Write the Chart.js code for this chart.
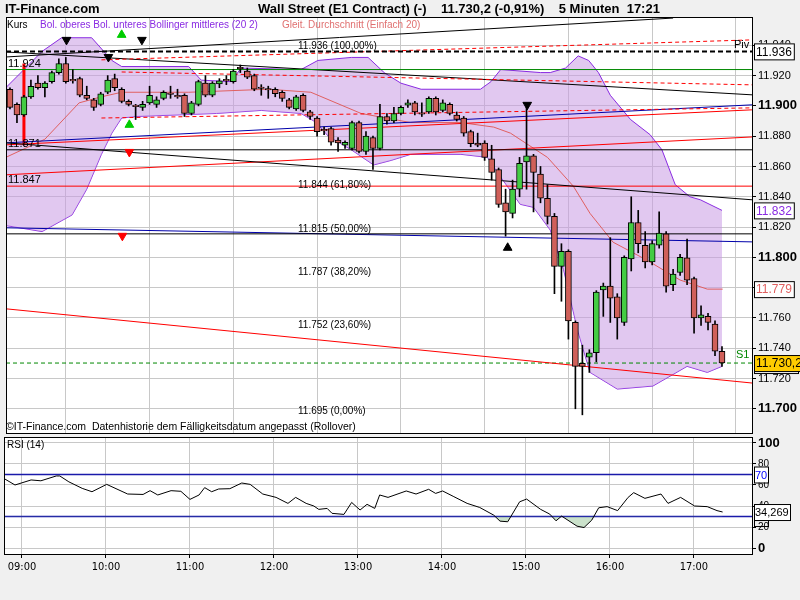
<!DOCTYPE html>
<html>
<head>
<meta charset="utf-8">
<script src="https://cdn.jsdelivr.net/npm/chart.js@4.4.0/dist/chart.umd.min.js"></script>
<style>
  body { margin: 0; background: #f0f0f0; width: 800px; height: 600px; overflow: hidden; position: relative; }
  canvas { position: absolute; left: 0; }
  #main { top: 0; }
  #rsi { top: 435px; }
</style>
</head>
<body>
<canvas id="main" width="800" height="439"></canvas>
<canvas id="rsi" width="800" height="165"></canvas>
<script>
// 5-minute bars, first bar is 08:50 (index -2), index 0 = 09:00
const opens = [11911,11901,11894,11906,11915,11912,11916,11922,11928,11917.5,11918,11907,11904,11901,11909,11918,11911,11903,11900.5,11899,11902,11901,11905,11908.5,11907,11907,11895,11901,11915,11907,11914.5,11917.5,11916,11925.5,11923,11920,11912.5,11911.5,11911,11909,11904,11898,11907,11896,11892,11884.5,11885,11877.5,11874,11872,11889,11870,11879,11872,11893,11890,11895,11900.5,11902,11895.5,11896,11905,11897,11901,11894,11892,11883,11875.5,11875.5,11865,11858,11836,11829,11845,11863,11867,11855,11839,11827,11794,11804,11757,11730,11734,11737,11778.5,11781,11774,11757,11799,11823,11808,11797,11808,11815.5,11782,11790,11799.7,11786,11760,11761,11756,11738];
const closes = [11899,11894,11906,11913,11912,11915,11922,11928,11916,11916.5,11907,11905,11899,11908,11917,11912,11903,11901,11899.5,11901,11907,11904,11909,11907.5,11906,11895,11902,11916,11907,11915,11916.5,11916.5,11923,11924.5,11919,11911,11911.5,11910.5,11908,11905,11899,11906,11897,11893,11883,11883.5,11876,11875.5,11876,11889,11870,11880,11872,11893,11890,11895,11899,11902,11896,11894.5,11905,11896,11902,11895,11891,11882,11875,11874,11866,11856,11835,11830,11845,11862,11867,11856,11839,11827,11794,11804,11758,11728,11728,11737,11777,11781,11773,11760,11800,11823,11809,11797,11809,11816,11781,11789,11800,11785,11760,11762,11757,11738,11730.2];
const highs = [11912,11902,11907,11917,11920,11916,11923,11931,11932,11924,11919,11913,11905,11909,11920,11921,11912,11904,11901,11903,11913,11906,11910,11913,11911,11908,11903,11917,11920,11916,11918,11920,11924,11927,11925,11921,11914,11913,11912,11910,11905,11907,11908,11897,11893,11886,11886,11879,11877,11890,11890,11883,11880,11901,11895,11899,11900,11904,11903,11902,11906,11906,11904,11902,11896,11893,11884,11882,11877,11874,11859,11845,11851,11866,11901,11868,11860,11848,11829,11809,11805,11758,11742,11739,11778,11783,11813,11776,11801,11840,11831,11817,11811,11830,11817,11792,11802,11812,11787,11768,11763,11758,11741];
const lows = [11898,11889,11893,11905,11911,11906,11915,11921,11915,11915,11906,11904,11897,11900,11908,11910,11902,11900,11891,11897,11901,11899,11904,11905,11905,11893,11894,11900,11906,11906,11912,11914,11915,11922,11918,11910,11907,11905,11906,11903,11898,11897,11896,11891,11880,11881,11874,11870,11872,11871,11869,11868,11858,11871,11888,11889,11894,11899,11894,11893,11895,11894,11896,11894,11890,11880,11873,11873,11864,11851,11833,11814,11826,11840,11845,11830,11836,11822,11776,11771,11746,11700,11696,11724,11731,11761,11757,11746,11755,11791,11803,11793,11795,11806,11777,11778,11788,11782,11750,11755,11752,11735,11728];

// Bollinger (20,2) and SMA 20 readings: bar index, price
const bbUpperX = [-2.6,2.6,5.4,9.7,12.6,14,23.6,25.4,29.7,31.1,39.7,42.1,46.9,49.3,51.6,54,56.9,65.4,66.9,68.3,74,75.4,77.6,79.4,80.9,82.3,84,86.9,89.7,91.4,93.3,95.4,96.9,100];
const bbUpperY = [11912,11936,11945,11945,11930,11926,11926,11917,11916,11925,11924,11930,11932,11932,11922,11915,11911,11911,11916,11924,11922,11922,11925,11933,11930,11922,11907,11891,11881,11871,11848,11840,11838,11831];
const bbLowerX = [-2.6,2.6,6.9,9,11.1,12.6,14,16.1,27.6,34,39.7,41.9,43.6,46.9,50.1,52.6,55.4,62.6,66.4,68.3,71.1,73,75.4,77.3,79.3,81.1,85,90.1,95,97.9,100];
const bbLowerY = [11821,11817,11828,11845,11868,11882,11892,11893,11895,11897,11895,11889,11880,11871,11861,11864,11868,11868,11866,11853,11835,11833,11818,11792,11752,11724,11713,11715,11728,11724,11728];
const smaX = [-2.6,3,7.9,11.1,14,23.6,35,41.1,48.3,55.4,62.6,67.3,69.7,75,78.7,81.1,84.4,89.3,94,97.9,100.1];
const smaY = [11866,11878,11902,11906,11909,11909,11911,11909,11895,11889,11889,11886,11882,11866,11847,11829,11810,11798,11785,11779,11779];

// RSI (14)
const rsiX = [-2.6,-1,1.3,2.7,4.9,5.4,6.7,8.6,10,12.1,15.1,17.3,18.3,19.4,21.3,22.7,24,25.3,26.1,27.1,28.1,29.7,31.4,32.6,34.4,36.3,38,39.1,40.6,41.7,42.4,43.6,44.3,46,47.1,48.3,49.3,50.4,51.1,52.3,54.9,56.3,58.1,59.1,60.1,61.7,63.6,65.4,67.4,68.3,69.4,71.1,72.1,74.1,75.4,76.3,77.1,79.3,80.3,81.4,82.4,83.6,85.1,86.6,87.4,89,91.3,92.3,94.1,96.1,97.9,99.3,100.1];
const rsiY = [66.3,60,64.8,64,68.6,68.6,63,56.8,53.6,60.6,51.4,51,54.6,50.5,54.6,54,46.3,50.5,57.5,53.6,56.2,56.5,61.9,60.6,51.4,48.2,42.5,48.2,42.5,40,36.8,37.7,33,32,43.4,36.2,41.6,37.7,50.5,48.2,54.3,51.4,55.9,52,54.3,48.9,42.5,38.6,31.3,25.6,25,44,46.6,36.8,32.3,25.9,30.4,20.8,19.5,26.5,38.3,39.4,35.6,48.2,52.7,47.3,51.4,42.5,48.2,40,39.4,35.6,34.3];

const hourIdx = [0,12,24,36,48,60,72,84,96];
const hourLabels = ['09:00','10:00','11:00','12:00','13:00','14:00','15:00','16:00','17:00'];
const priceTicks = [11700,11720,11740,11760,11780,11800,11820,11840,11860,11880,11900,11920,11940];
const rsiTicks = [0,20,40,60,80,100];

// trend / support lines: [x0, y0, x1, y1, colour, dash, width]
const lines = [
  [-2.57,11936,104.3,11936,'#000',[5,3],2],
  [11.1,11930.4,104.3,11943.6,'#f00',[4,3],1],
  [14,11922.4,104.3,11913.9,'#f00',[4,3],1],
  [11.1,11892,104.3,11898.7,'#f00',[4,3],1],
  [-2.57,11924,104.3,11924,'#080',[],1],
  [-2.57,11932.3,93,11958,'#000',[],1],
  [-2.57,11935.6,104.3,11907.3,'#000',[],1],
  [-2.57,11871,104.3,11871,'#000',[],1],
  [-2.57,11875.6,104.3,11838,'#000',[],1],
  [-2.57,11815.5,104.3,11815.5,'#000',[],1],
  [-2.57,11819.5,104.3,11810.2,'#00a',[],1],
  [-2.57,11875.6,104.3,11900.7,'#00a',[],1],
  [-2.57,11874.3,104.3,11897.4,'#f00',[],1],
  [-2.57,11854.5,104.3,11879.5,'#f00',[],1],
  [-2.57,11847,104.3,11847,'#f00',[],1],
  [-2.57,11766,104.3,11717,'#f00',[],1],
  [-2.57,11730.2,104.3,11730.2,'#080',[4,3],1],
  [0,11928,0,11874,'#f00',[],3]
];
const fibLabels = ['11.936 (100,00%)','11.844 (61,80%)','11.815 (50,00%)','11.787 (38,20%)','11.752 (23,60%)','11.695 (0,00%)'];
const fibPrices = [11936,11844,11815,11787,11752,11695];

const XMIN = -2.57, XMAX = 104.3;
const FONT = 'Arial, "Liberation Sans", sans-serif';

const bars = opens.map((o, k) => ({ x: k - 2, y: o === closes[k] ? [o - 0.5, o + 0.5] : [o, closes[k]] }));
const wicks = lows.map((l, k) => ({ x: k - 2, y: [l, highs[k]] }));
const pts = (xs, ys) => xs.map((x, k) => ({ x, y: ys[k] }));

const datasets = [
  { type: 'line', data: pts(bbUpperX, bbUpperY), borderColor: '#8a2be2', borderWidth: 1, pointRadius: 0, fill: '+1', backgroundColor: 'rgba(200,155,228,0.55)', order: 10 },
  { type: 'line', data: pts(bbLowerX, bbLowerY), borderColor: '#8a2be2', borderWidth: 1, pointRadius: 0, fill: false, order: 10 },
  { type: 'line', data: pts(smaX, smaY), borderColor: '#e06060', borderWidth: 1, pointRadius: 0, fill: false, order: 6 }
];
lines.forEach(l => datasets.push({
  type: 'line', data: [{ x: l[0], y: l[1] }, { x: l[2], y: l[3] }], borderColor: l[4], borderDash: l[5],
  borderWidth: l[6], pointRadius: 0, fill: false, order: 5
}));
datasets.push({ type: 'bar', data: wicks, backgroundColor: '#000', barThickness: 1, grouped: false, order: 2 });
datasets.push({
  type: 'bar', data: bars, grouped: false, barThickness: 6, borderColor: '#000', borderWidth: 1, borderSkipped: false,
  backgroundColor: bars.map(b => b.y[1] >= b.y[0] ? '#44cc44' : '#d0605a'), order: 1
});
// signal arrows
const downArrows = [[6.1,11943.6,'#000'],[12.1,11932.3,'#000'],[16.9,11943.6,'#000'],[72.1,11900.7,'#000'],[15.1,11869.6,'#f00'],[14.1,11814.2,'#f00']];
const upArrows = [[69.3,11806.3,'#000'],[14,11946.9,'#0c0'],[15.1,11887.5,'#0c0']];
datasets.push({ type: 'scatter', data: downArrows.map(a => ({ x: a[0], y: a[1] })), pointStyle: 'triangle', rotation: 180,
  pointRadius: 5, backgroundColor: downArrows.map(a => a[2]), borderColor: downArrows.map(a => a[2]), order: 0 });
datasets.push({ type: 'scatter', data: upArrows.map(a => ({ x: a[0], y: a[1] })), pointStyle: 'triangle',
  pointRadius: 5, backgroundColor: upArrows.map(a => a[2]), borderColor: upArrows.map(a => a[2]), order: 0 });

const whiteArea = {
  id: 'whiteArea',
  beforeDraw(c) {
    const a = c.chartArea, ctx = c.ctx;
    ctx.save(); ctx.fillStyle = '#fff'; ctx.fillRect(a.left, a.top, a.right - a.left, a.bottom - a.top); ctx.restore();
  },
  afterDraw(c) {
    const a = c.chartArea, ctx = c.ctx;
    ctx.save(); ctx.strokeStyle = '#000'; ctx.lineWidth = 1;
    ctx.strokeRect(a.left + 0.5, a.top + 0.5, a.right - a.left, a.bottom - a.top); ctx.restore();
  }
};

function box(ctx, text, y, color, bg, bold) {
  ctx.font = (bold ? 'bold ' : '') + '12px ' + FONT;
  const w = ctx.measureText(text).width + 4;
  ctx.fillStyle = bg; ctx.fillRect(754, y - 8, w, 16);
  ctx.strokeStyle = '#000'; ctx.strokeRect(754.5, y - 7.5, w, 16);
  ctx.fillStyle = color; ctx.textAlign = 'left'; ctx.textBaseline = 'middle';
  ctx.fillText(text, 756, y + 1);
}

const mainText = {
  id: 'mainText',
  afterDraw(c) {
    const ctx = c.ctx, y = c.scales.y;
    ctx.save();
    ctx.textBaseline = 'middle'; ctx.textAlign = 'left';
    ctx.fillStyle = '#000'; ctx.font = 'bold 13px ' + FONT;
    ctx.fillText('IT-Finance.com', 5, 9);
    ctx.fillText('Wall Street (E1 Contract) (-)    11.730,2 (-0,91%)    5 Minuten  17:21', 258, 9);
    ctx.font = '10px ' + FONT;
    ctx.fillText('Kurs', 7, 25);
    ctx.fillStyle = '#8a2be2'; ctx.fillText('Bol. oberes Bol. unteres Bollinger mittleres (20 2)', 40, 25);
    ctx.fillStyle = '#e07070'; ctx.fillText('Gleit. Durchschnitt (Einfach 20)', 282, 25);
    ctx.fillStyle = '#000'; ctx.font = '10.5px ' + FONT;
    ctx.fillText('©IT-Finance.com  Datenhistorie dem Fälligkeitsdatum angepasst (Rollover)', 6, 427);
    ctx.font = '10px ' + FONT;
    fibLabels.forEach((t, k) => ctx.fillText(t, 298, y.getPixelForValue(fibPrices[k]) - 5));
    ctx.font = '11px ' + FONT;
    ctx.fillText('11.924', 8, y.getPixelForValue(11924) - 6);
    ctx.fillText('11.871', 8, y.getPixelForValue(11871) - 6);
    ctx.fillText('11.847', 8, y.getPixelForValue(11847) - 6);
    ctx.fillText('Piv', 734, y.getPixelForValue(11936) - 6);
    ctx.fillStyle = '#080'; ctx.fillText('S1', 736, y.getPixelForValue(11730.2) - 8);
    box(ctx, '11.936', y.getPixelForValue(11936), '#000', '#fff', false);
    box(ctx, '11.832', y.getPixelForValue(11831), '#8a2be2', '#fff', false);
    box(ctx, '11.779', y.getPixelForValue(11779), '#e06060', '#fff', false);
    ctx.strokeStyle = '#000'; ctx.strokeRect(754.5, y.getPixelForValue(11730.2) + 2.5, 44, 8);
    box(ctx, '11.730,2', y.getPixelForValue(11730.2), '#000', '#ffcc00', false);
    ctx.restore();
  }
};

const noLabelPad = s => { s.width = 48; s.paddingTop = 0; s.paddingBottom = 0; };

new Chart(document.getElementById('main'), {
  data: { datasets },
  options: {
    responsive: false, animation: false,
    layout: { padding: { left: 4, top: 17, bottom: 2, right: 0 } },
    plugins: { legend: { display: false }, tooltip: { enabled: false } },
    scales: {
      x: {
        type: 'linear', min: XMIN, max: XMAX, offset: false,
        afterBuildTicks: s => { s.ticks = hourIdx.map(v => ({ value: v })); },
        afterFit: s => { s.height = 0; s.paddingLeft = 0; s.paddingRight = 0; },
        ticks: { display: false }, grid: { color: '#c8c8c8', drawTicks: false }, border: { display: false }
      },
      y: {
        position: 'right', min: 11684, max: 11958.7,
        afterBuildTicks: s => { s.ticks = priceTicks.map(v => ({ value: v })); },
        afterFit: noLabelPad,
        ticks: {
          color: '#000', padding: 2,
          font: ctx => ctx.tick && ctx.tick.value % 100 === 0 ? { family: FONT, size: 13, weight: 'bold' } : { family: FONT, size: 11 },
          callback: v => (v / 1000).toFixed(3)
        },
        grid: { color: '#c8c8c8', tickLength: 4, tickColor: '#000' }, border: { color: '#000' }
      }
    }
  },
  plugins: [whiteArea, mainText]
});

const rsiText = {
  id: 'rsiText',
  afterDraw(c) {
    const ctx = c.ctx, y = c.scales.y;
    ctx.save(); ctx.textBaseline = 'middle'; ctx.textAlign = 'left';
    ctx.fillStyle = '#000'; ctx.font = '10px ' + FONT;
    ctx.fillText('RSI (14)', 7, 10);
    ctx.font = '11px ' + FONT;
    ctx.fillStyle = '#fff'; ctx.fillRect(754, y.getPixelForValue(70) - 8, 14, 16);
    ctx.strokeStyle = '#000'; ctx.strokeRect(754.5, y.getPixelForValue(70) - 7.5, 14, 16);
    ctx.fillStyle = '#00f'; ctx.fillText('70', 755, y.getPixelForValue(70) + 1);
    const ry = y.getPixelForValue(34.269);
    ctx.fillStyle = '#fff'; ctx.fillRect(754, ry - 8, 36, 16);
    ctx.strokeRect(754.5, ry - 7.5, 36, 16); ctx.strokeRect(754.5, ry + 8.5, 14, 6);
    ctx.fillStyle = '#000'; ctx.fillText('34,269', 755, ry + 1);
    ctx.restore();
  }
};

new Chart(document.getElementById('rsi'), {
  data: {
    datasets: [
      { type: 'line', data: pts(rsiX, rsiY), borderColor: '#000', borderWidth: 1, pointRadius: 0,
        fill: { target: { value: 30 }, above: 'rgba(0,0,0,0)', below: 'rgba(140,190,140,0.45)' }, order: 1 },
      { type: 'line', data: [{ x: XMIN, y: 70 }, { x: XMAX, y: 70 }], borderColor: '#1a1aaa', borderWidth: 1.5, pointRadius: 0, fill: false, order: 2 },
      { type: 'line', data: [{ x: XMIN, y: 30 }, { x: XMAX, y: 30 }], borderColor: '#1a1aaa', borderWidth: 1.5, pointRadius: 0, fill: false, order: 2 }
    ]
  },
  options: {
    responsive: false, animation: false,
    layout: { padding: { left: 4, top: 2, right: 0, bottom: 0 } },
    plugins: { legend: { display: false }, tooltip: { enabled: false } },
    scales: {
      x: {
        type: 'linear', min: XMIN, max: XMAX,
        afterBuildTicks: s => { s.ticks = hourIdx.map(v => ({ value: v })); },
        afterFit: s => { s.height = 46; s.paddingLeft = 0; s.paddingRight = 0; },
        ticks: { color: '#000', padding: 3, maxRotation: 0, font: { family: '"DejaVu Sans Condensed", "DejaVu Sans", sans-serif', size: 11 },
          callback: v => hourLabels[hourIdx.indexOf(v)] },
        grid: { color: '#c8c8c8', tickLength: 4, tickColor: '#000' }, border: { color: '#000' }
      },
      y: {
        position: 'right', min: -5.7, max: 105.7,
        afterBuildTicks: s => { s.ticks = rsiTicks.map(v => ({ value: v })); },
        afterFit: noLabelPad,
        ticks: { color: '#000', padding: 2,
          font: ctx => ctx.tick && (ctx.tick.value === 0 || ctx.tick.value === 100) ? { family: FONT, size: 13, weight: 'bold' } : { family: FONT, size: 10 } },
        grid: { color: '#c8c8c8', tickLength: 4, tickColor: '#000' }, border: { color: '#000' }
      }
    }
  },
  plugins: [whiteArea, rsiText]
});
</script>
</body>
</html>
